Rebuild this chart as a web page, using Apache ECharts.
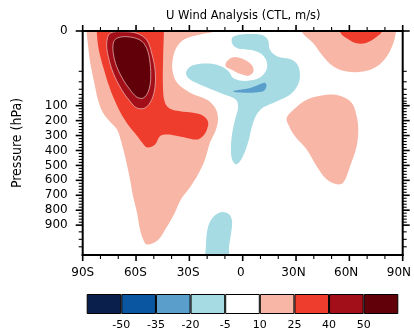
<!DOCTYPE html>
<html>
<head>
<meta charset="utf-8">
<script src="https://cdn.jsdelivr.net/npm/echarts@6/dist/echarts.min.js"></script>
<style>
html,body{margin:0;padding:0;background:#fff}
#main{width:414px;height:331px}
</style>
</head>
<body>
<div id="main"></div>
<script>
// contour bounds (m/s) and the fill colour of each band
var levelBounds = ['-50', '-35', '-20', '-5', '10', '25', '40', '50'];
var levelColors = ['#0a1f4c', '#0b56a0', '#5a9fcc', '#a6dbe3', '#ffffff', '#f8b7a6', '#ee3c2d', '#a30f18', '#62000a'];

// y axis is a layer index (0 = top, 15 = bottom), labelled with pressure
var presLabels = ['0', '100', '200', '300', '400', '500', '600', '700', '800', '900'];
var presLayers = [0, 5, 6, 7, 8, 9, 10, 11, 12, 13];
var minorLayers = [2.7, 3.4, 3.9, 4.25, 4.5, 4.7, 4.85,
    5.2, 5.4, 5.6, 5.8, 6.2, 6.4, 6.6, 6.8, 7.2, 7.4, 7.6, 7.8, 8.2, 8.4, 8.6, 8.8,
    9.2, 9.4, 9.6, 9.8, 10.2, 10.4, 10.6, 10.8, 11.2, 11.4, 11.6, 11.8, 12.2, 12.4, 12.6, 12.8,
    13.45, 13.95, 14.45];
var latLabels = ['90S', '60S', '30S', '0', '30N', '60N', '90N'];

// filled contour outlines, [lon, layer]
var pinkSouth = [[-87.9,-0.7],[-87.9,0],[-87.0,0.93],[-86.2,1.8],[-84.8,2.73],[-83.4,3.53],[-81.4,4.6],
    [-78.6,5.47],[-74.6,6.07],[-70.7,6.6],[-67.9,7.6],[-65.4,8.8],[-63.4,9.93],[-61.7,11.07],
    [-59.5,12.13],[-57.8,13.27],[-56.1,13.93],[-53.8,14.3],[-47.6,14.0],[-43.1,13.2],[-38.6,12.27],
    [-34.7,11.27],[-29.6,10.47],[-25.1,9.6],[-21.2,8.6],[-18.4,7.47],[-15.0,6.6],[-13.9,5.8],
    [-15.6,5.13],[-20.1,4.6],[-29.6,4.13],[-36.9,3.47],[-39.4,2.73],[-39.4,1.93],[-37.1,1.07],
    [-32.5,0.53],[-24.0,0.23],[-16.7,0.07],[-12.8,-0.07],[-12.8,-0.7]];
var redSouth = [[-82.1,-0.7],[-44.3,-0.7],[-44.3,0],[-44.8,1.93],[-44.8,3.93],[-43.7,4.8],[-40.9,5.2],
    [-35.3,5.37],[-28.0,5.47],[-22.3,5.67],[-19.5,6.07],[-20.1,6.6],[-22.3,7.03],[-25.7,7.27],
    [-32.5,7.13],[-38.1,7.0],[-42.6,6.93],[-46.5,7.03],[-49.3,7.6],[-53.8,7.8],[-56.6,7.47],
    [-60.0,6.93],[-64.5,6.27],[-69.0,5.4],[-72.9,4.4],[-75.8,3.47],[-78.0,2.6],[-80.3,1.6],
    [-81.4,0.93],[-82.1,0]];
var darkRedJet = [[-74.6,0.15],[-67.2,0.05],[-59.6,0.15],[-54.0,0.6],[-51.2,1.49],[-49.3,2.6],
    [-49.3,3.71],[-51.2,4.6],[-54.9,5.15],[-59.6,5.15],[-63.4,4.71],[-68.1,3.93],[-72.8,2.82],
    [-75.6,1.71],[-76.5,0.82]];
var jetCore = [[-70.9,0.49],[-65.3,0.38],[-57.8,0.6],[-54.0,1.15],[-52.1,2.15],[-51.8,3.27],
    [-53.1,4.05],[-55.9,4.49],[-59.6,4.42],[-63.4,3.93],[-67.2,3.27],[-70.9,2.38],[-72.8,1.49],
    [-72.8,0.82]];
var pinkNorthTop = [[32.2,-0.7],[33.2,0.05],[39.7,0.82],[45.3,1.71],[51.0,2.38],[58.5,2.71],
    [67.8,2.71],[75.4,2.38],[81.0,1.71],[84.7,0.82],[86.2,0.05],[86.8,-0.7]];
var redNorthTop = [[54.7,-0.7],[54.7,0.05],[58.5,0.49],[64.1,0.82],[69.7,0.78],[75.4,0.38],
    [78.2,0.05],[78.4,-0.7]];
var pinkNorthMid = [[24.7,5.82],[28.5,5.27],[36.0,4.6],[47.2,4.27],[54.7,4.33],[61.4,4.82],
    [64.1,5.71],[65.0,6.6],[64.1,7.71],[60.4,9.05],[56.6,10.15],[52.9,10.27],[47.2,9.93],
    [41.6,9.05],[36.0,7.93],[29.4,7.05],[25.7,6.27]];
var pinkEquator = [[-9.0,2.05],[-5.3,1.75],[0.4,1.89],[5.1,2.27],[6.0,2.71],[3.2,3.0],[-1.5,2.87],
    [-6.2,2.6],[-9.5,2.38]];
var blueEquator = [[-6.0,0.47],[-2.6,0.27],[4.1,0.2],[10.9,0.27],[14.2,0.6],[15.4,1.27],[19.9,1.73],
    [26.6,1.87],[30.5,2.2],[32.2,2.87],[31.1,3.6],[26.6,4.27],[18.7,4.73],[11.4,5.13],[7.5,5.67],
    [5.2,6.4],[3.5,7.27],[1.3,8.07],[-1.5,8.73],[-3.8,8.93],[-6.0,8.6],[-6.6,7.8],[-6.0,6.93],
    [-4.3,5.93],[-2.6,5.13],[-3.8,4.6],[-10.0,4.27],[-18.4,3.87],[-25.1,3.53],[-30.2,3.2],
    [-31.9,2.8],[-29.6,2.4],[-24.0,2.2],[-17.3,2.2],[-11.6,2.4],[-7.7,2.73],[-5.5,3.13],
    [-0.4,3.33],[6.4,3.27],[10.9,3.0],[13.7,2.47],[13.1,1.93],[10.3,1.53],[5.2,1.27],[-1.5,1.2],
    [-5.5,0.93]];
var blueCore = [[-5.5,4.03],[-1.5,3.93],[2.4,3.87],[6.9,3.7],[9.7,3.57],[12.5,3.47],[13.4,3.67],
    [12.0,4.0],[8.6,4.1],[1.3,4.13],[-3.8,4.1]];
var blueSurface = [[-20.1,15.93],[-20.6,14.27],[-19.5,13.13],[-16.7,12.47],[-12.2,12.13],[-7.7,12.27],
    [-6.0,12.73],[-6.6,13.6],[-7.7,14.47],[-8.3,15.93]];

// band index into levelColors, painted in this order
var fills = [
    {band: 5, pts: pinkSouth},
    {band: 5, pts: pinkNorthTop},
    {band: 5, pts: pinkNorthMid},
    {band: 6, pts: redSouth},
    {band: 6, pts: redNorthTop},
    {band: 7, pts: darkRedJet, line: true},
    {band: 8, pts: jetCore, line: true},
    {band: 3, pts: blueEquator},
    {band: 3, pts: blueSurface},
    {band: 2, pts: blueCore},
    {band: 5, pts: pinkEquator}
];

var font = 'DejaVu Sans';
var LAYER_MAX = 15;
var ROW = 0.05; // label axis resolution in layers
var plotRect = {left: 82.7, right: 11.3, top: 31, bottom: 76};

// longitude ticks every 10 deg, labelled every 30
var lonTicks = [];
for (var t = -90; t <= 90; t += 10) lonTicks.push(t);

// fine rows for the pressure label axis (row 0 = bottom)
var labelRows = [];
for (var r = 0; r <= LAYER_MAX / ROW; r++) labelRows.push(String(r));
var majorRows = presLayers.map(function (l) { return Math.round((LAYER_MAX - l) / ROW); });

var chart = echarts.init(document.getElementById('main'));

// black frame with outward ticks, built from filled bars placed through the data axes
var renderFrame = function (params, api) {
    var cs = params.coordSys;
    var els = [];
    var bar = function (x, y, w, h) {
        els.push({type: 'rect', shape: {x: x, y: y, width: w, height: h}, style: {fill: '#000'}});
    };
    lonTicks.forEach(function (lon) {
        var major = lon % 30 === 0;
        var len = major ? 6 : 4, w = major ? 1.6 : 1.1;
        var pb = api.coord([lon, LAYER_MAX]);
        var pt = api.coord([lon, 0]);
        bar(pb[0] - w / 2, pb[1], w, len);
        bar(pt[0] - w / 2, pt[1] - len, w, len);
    });
    presLayers.forEach(function (l) {
        var pl = api.coord([-90, l]), pr = api.coord([90, l]);
        bar(pl[0] - 7, pl[1] - 0.8, 7, 1.6);
        bar(pr[0], pr[1] - 0.8, 7, 1.6);
    });
    minorLayers.forEach(function (l) {
        var pl = api.coord([-90, l]), pr = api.coord([90, l]);
        bar(pl[0] - 4, pl[1] - 0.55, 4, 1.1);
        bar(pr[0], pr[1] - 0.55, 4, 1.1);
    });
    bar(cs.x - 1, cs.y - 1, cs.width + 2, 2);
    bar(cs.x - 1, cs.y + cs.height - 1, cs.width + 2, 2);
    bar(cs.x - 1, cs.y - 1, 2, cs.height + 2);
    bar(cs.x + cs.width - 1, cs.y - 1, 2, cs.height + 2);
    return {type: 'group', children: els};
};

var renderArea = function (params, api) {
    if (params.dataIndex >= fills.length) return renderFrame(params, api);
    var f = fills[params.dataIndex];
    var cs = params.coordSys;
    var pts = f.pts.map(function (p) { return api.coord(p); });
    return {
        type: 'group',
        clipPath: {type: 'rect', shape: {x: cs.x, y: cs.y, width: cs.width, height: cs.height}},
        children: [{
            type: 'polygon',
            shape: {points: pts, smooth: 0.35},
            style: {
                fill: levelColors[f.band],
                stroke: f.line ? 'rgba(235,190,190,0.9)' : null,
                lineWidth: f.line ? 0.8 : 0
            }
        }]
    };
};

// colour bar, one stacked cell per band
var barSeries = levelColors.map(function (c) {
    return {
        type: 'bar', xAxisIndex: 2, yAxisIndex: 2, stack: 'bar', silent: true,
        barWidth: 20, data: [1],
        itemStyle: {color: c, borderColor: '#000', borderWidth: 1}
    };
});

var areaData = fills.map(function (f) { return f.pts[0]; });
areaData.push([0, 0]); // frame item

chart.setOption({
    animation: false,
    title: {
        text: 'U Wind Analysis (CTL, m/s)',
        left: 161, top: 5,
        textStyle: {fontFamily: font, fontSize: 11.5, fontWeight: 'normal', color: '#000'}
    },
    grid: [
        plotRect,
        {left: 86.7, width: 311.6, top: 294, height: 20},
        plotRect
    ],
    xAxis: [
        {type: 'value', gridIndex: 0, min: -90, max: 90, show: false},
        {
            type: 'value', gridIndex: 2, position: 'bottom', min: -90, max: 90, interval: 30,
            axisLine: {show: false}, axisTick: {show: false}, splitLine: {show: false},
            axisLabel: {
                margin: 12, color: '#000', fontFamily: font, fontSize: 12,
                formatter: function (v) { return latLabels[Math.round((v + 90) / 30)]; }
            }
        },
        {
            type: 'value', gridIndex: 1, min: 0, max: 9, interval: 1,
            axisLine: {show: false}, axisTick: {show: false}, splitLine: {show: false},
            axisLabel: {
                margin: 6, color: '#000', fontFamily: font, fontSize: 11,
                formatter: function (v) { return (v >= 1 && v <= 8) ? levelBounds[v - 1] : ''; }
            }
        }
    ],
    yAxis: [
        {type: 'value', gridIndex: 0, min: 0, max: LAYER_MAX, inverse: true, show: false},
        {
            type: 'category', gridIndex: 2, position: 'left', data: labelRows, boundaryGap: false,
            axisLine: {show: false}, axisTick: {show: false}, splitLine: {show: false},
            axisLabel: {
                show: true, margin: 15, color: '#000', fontFamily: font, fontSize: 12,
                interval: function (i) { return majorRows.indexOf(i) >= 0; },
                formatter: function (v, i) {
                    var k = majorRows.indexOf(i);
                    return k < 0 ? '' : presLabels[k];
                }
            },
            name: 'Pressure (hPa)', nameLocation: 'middle', nameGap: 58,
            nameTextStyle: {fontFamily: "'DejaVu Sans Condensed', 'Liberation Sans', sans-serif", fontSize: 14, color: '#000'}
        },
        {
            type: 'category', gridIndex: 1, data: [''],
            axisLine: {show: false}, axisTick: {show: false}, axisLabel: {show: false}
        }
    ],
    series: [{
        type: 'custom', xAxisIndex: 0, yAxisIndex: 0, silent: true, z: 3,
        renderItem: renderArea,
        data: areaData
    }].concat(barSeries)
});
</script>
</body>
</html>
